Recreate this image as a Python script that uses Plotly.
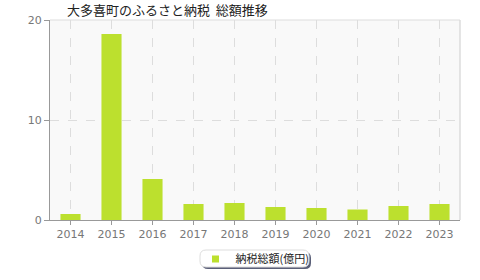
import plotly.graph_objects as go

years = ["2014", "2015", "2016", "2017", "2018", "2019", "2020", "2021", "2022", "2023"]
values = [0.6, 18.6, 4.1, 1.6, 1.7, 1.3, 1.2, 1.05, 1.4, 1.6]
series_name = "納税総額(億円)"
title_text = "大多喜町のふるさと納税  総額推移"

BAR_COLOR = "#bce02e"
font_family = "Noto Sans CJK JP, sans-serif"

# plot area in pixels
L, R, T, B = 50, 460, 20, 220


def px(x):
    return (x - L) / (R - L)


def py(y):
    return (B - y) / (B - T)


def rrect(x0, y0, x1, y1, r):
    rx = r / (R - L)
    ry = r / (B - T)
    a0, a1 = px(x0), px(x1)
    b0, b1 = py(y0), py(y1)  # b0 top (larger), b1 bottom
    return (f"M {a0+rx},{b0} L {a1-rx},{b0} Q {a1},{b0} {a1},{b0-ry} "
            f"L {a1},{b1+ry} Q {a1},{b1} {a1-rx},{b1} L {a0+rx},{b1} "
            f"Q {a0},{b1} {a0},{b1+ry} L {a0},{b0-ry} Q {a0},{b0} {a0+rx},{b0} Z")


fig = go.Figure()
fig.add_trace(go.Bar(
    x=years, y=values, name=series_name,
    marker=dict(color=BAR_COLOR, line=dict(width=0)),
    width=0.49, showlegend=False,
))
# legend-only marker
fig.add_trace(go.Scatter(
    x=[None], y=[None], mode="markers", name=series_name,
    marker=dict(symbol="square", size=7, color=BAR_COLOR),
    showlegend=True,
))

fig.update_layout(
    width=480, height=280,
    margin=dict(l=L, r=480 - R, t=T, b=280 - B, autoexpand=False),
    paper_bgcolor="white",
    plot_bgcolor="#f9f9f9",
    font=dict(family=font_family, size=11, color="#666"),
    title=dict(text=title_text, x=67/480, xanchor="left", y=1 - 10/280, yanchor="middle",
               font=dict(size=13, color="#222", family=font_family)),
    xaxis=dict(
        type="category", showgrid=True, gridcolor="#dddddd", griddash="dash", gridwidth=1,
        showline=True, linecolor="#999", linewidth=1, mirror=False,
        ticks="outside", ticklen=4, tickcolor="#999",
        tickfont=dict(size=11, color="#777", family="DejaVu Sans, sans-serif"),
    ),
    yaxis=dict(
        range=[0, 20], tickvals=[0, 10, 20], showgrid=True, gridcolor="#dddddd", griddash="dash",
        showline=True, linecolor="#999", linewidth=1,
        ticks="outside", ticklen=5, tickcolor="#999", zeroline=False,
        tickfont=dict(size=11, color="#777", family="DejaVu Sans, sans-serif"),
    ),
    legend=dict(
        orientation="h", x=px(255), xanchor="center", y=py(259), yanchor="middle",
        bgcolor="rgba(0,0,0,0)", borderwidth=0,
        font=dict(size=11, color="#222", family=font_family),
        itemwidth=30, tracegroupgap=0,
    ),
    shapes=[
        dict(type="line", xref="paper", yref="paper", x0=1, x1=1, y0=0, y1=1,
             line=dict(color="#cccccc", width=1)),
        dict(type="line", xref="paper", yref="paper", x0=0, x1=1, y0=1, y1=1,
             line=dict(color="#dddddd", width=1)),
        dict(type="path", xref="paper", yref="paper", path=rrect(202, 252, 311, 269, 6),
             fillcolor="#5a5f78", line=dict(width=0), layer="below"),
        dict(type="path", xref="paper", yref="paper", path=rrect(200, 250, 309, 267, 6),
             fillcolor="white", line=dict(color="#dddddd", width=1), layer="below"),
    ],
)

fig.write_html("out.html")
